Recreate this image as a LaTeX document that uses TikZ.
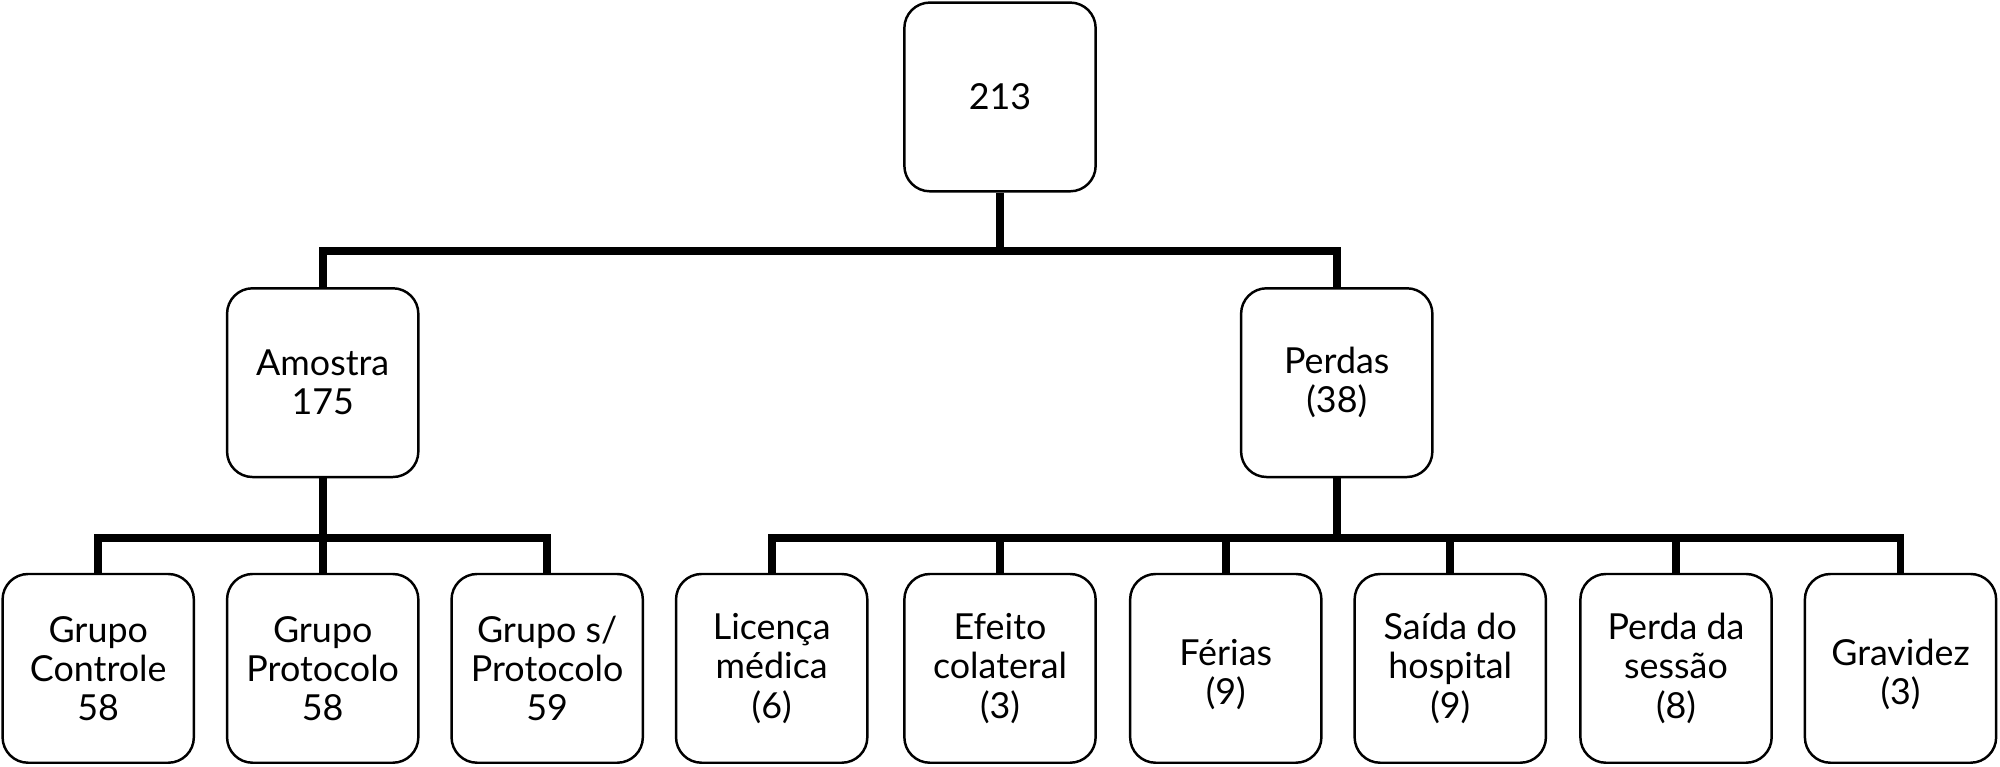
\documentclass[tikz,border=0pt]{standalone}
\usepackage{fontspec}
\setmainfont{Lato}
\begin{document}
\begin{tikzpicture}[x=0.02cm,y=-0.02cm,
 box/.style={draw,line width=1.1pt,rounded corners=0.4cm,minimum width=3cm,minimum height=2.96cm,align=center,font=\fontsize{16}{17.5}\selectfont,inner sep=0pt},
 conn/.style={line width=3.4pt}]
\useasboundingbox (0,0) rectangle (1568,601);
\node[box] (r) at (784,76) {213};
\node[box] (a) at (253,300) {Amostra\\175};
\node[box] (p) at (1048,300) {Perdas\\(38)};
\node[box] (b1) at (77,524) {Grupo\\Controle\\58};
\node[box] (b2) at (253,524) {Grupo\\Protocolo\\58};
\node[box] (b3) at (429,524) {Grupo s/\\Protocolo\\59};
\node[box] (c1) at (605,524) {Licença\\médica\\(6)};
\node[box] (c2) at (784,524) {Efeito\\colateral\\(3)};
\node[box] (c3) at (961,524) {\\Férias\\(9)};
\node[box] (c4) at (1137,524) {Saída do\\hospital\\(9)};
\node[box] (c5) at (1314,524) {Perda da\\sessão\\(8)};
\node[box] (c6) at (1490,524) {\\Gravidez\\(3)};
\coordinate (j0) at (784,197);
\coordinate (j1) at (253,422);
\coordinate (j2) at (1048,422);
\draw[conn] (r.south) -- (j0);
\draw[conn] (a.north) -- (a.north|-j0) -- (p.north|-j0) -- (p.north);
\draw[conn] (a.south) -- (j1);
\draw[conn] (b1.north) -- (b1.north|-j1) -- (b3.north|-j1) -- (b3.north);
\draw[conn] (b2.north) -- (j1);
\draw[conn] (p.south) -- (j2);
\draw[conn] (c1.north) -- (c1.north|-j2) -- (c6.north|-j2) -- (c6.north);
\foreach \n in {c2,c3,c4,c5} \draw[conn] (\n.north) -- (\n.north|-j2);
\end{tikzpicture}
\end{document}
